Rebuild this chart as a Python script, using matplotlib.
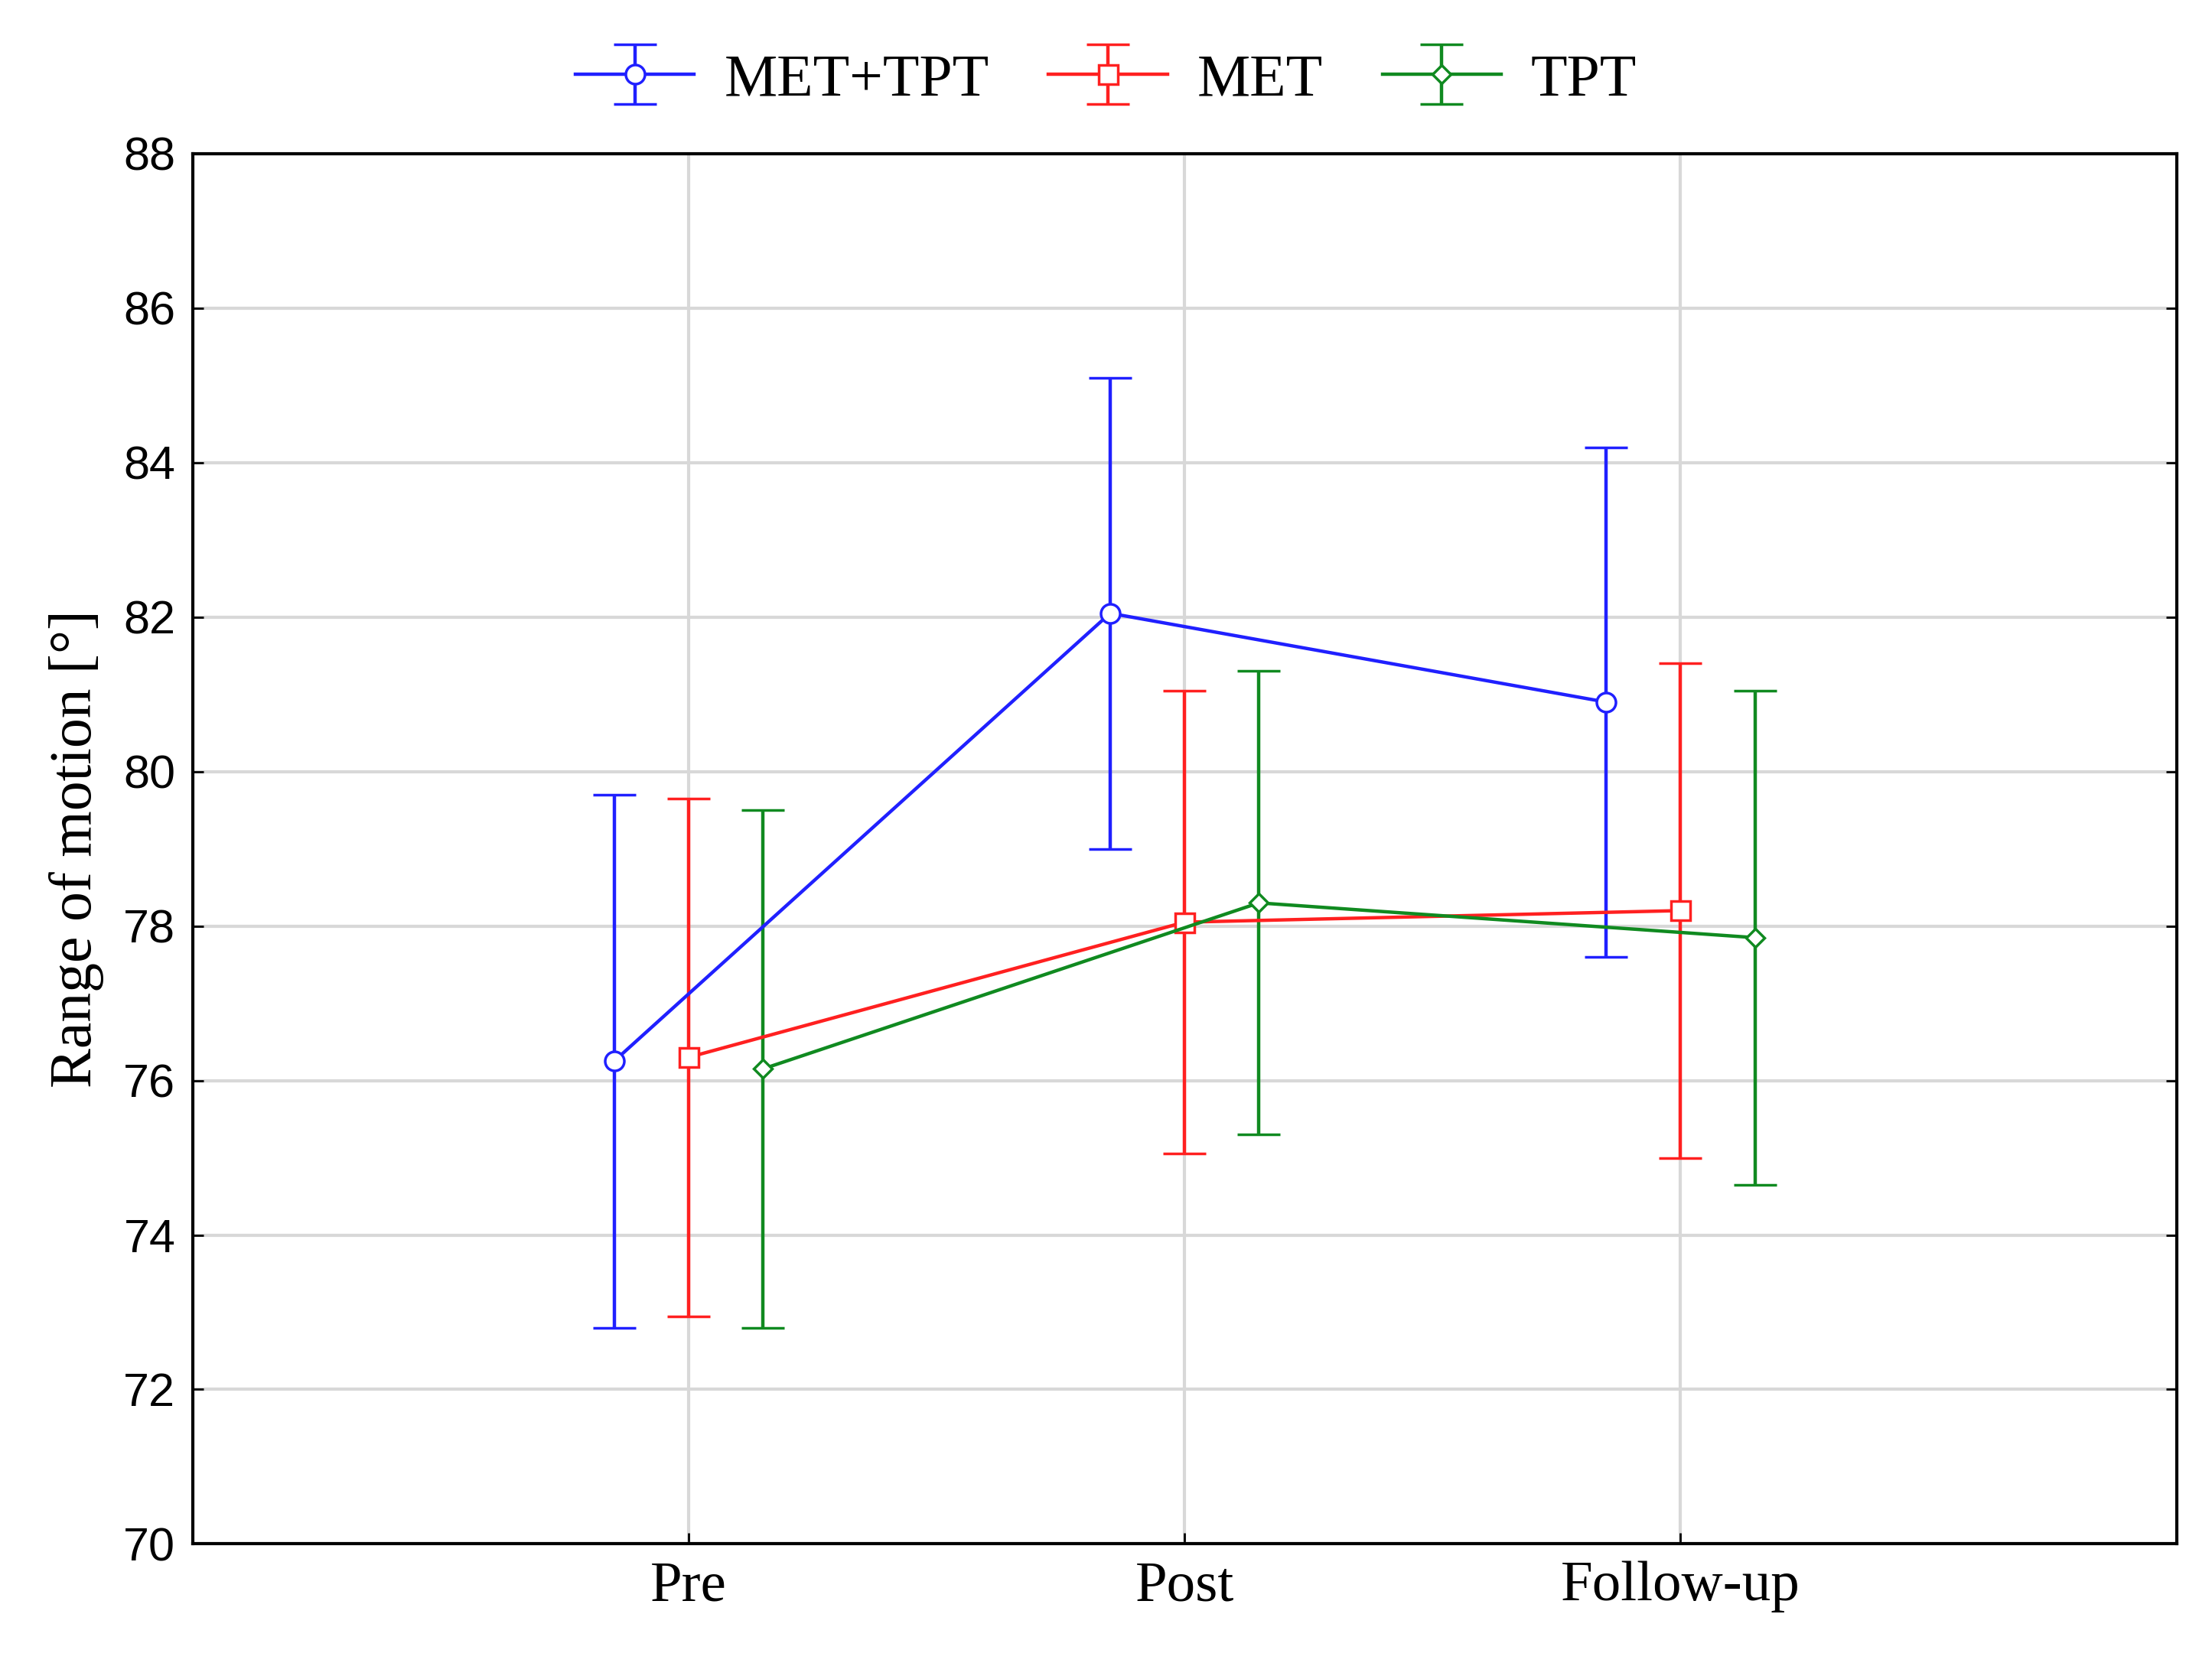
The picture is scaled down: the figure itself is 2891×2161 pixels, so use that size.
import numpy as np
import matplotlib
matplotlib.use("Agg")
import matplotlib.pyplot as plt

phases = ["Pre", "Post", "Follow-up"]
groups = ["MET+TPT", "MET", "TPT"]
colors = ["#2020ff", "#ff2020", "#108a20"]
markers = ["o", "s", "D"]
means = [[76.25, 82.05, 80.9],
         [76.3, 78.05, 78.2],
         [76.15, 78.3, 77.85]]
lower = [[72.8, 79.0, 77.6],
         [72.95, 75.05, 75.0],
         [72.8, 75.3, 74.65]]
upper = [[79.7, 85.1, 84.2],
         [79.65, 81.05, 81.4],
         [79.5, 81.3, 81.05]]

fig = plt.figure(figsize=(28.91, 21.61), dpi=100)
ax = fig.add_axes([0.087, 0.066, 0.897, 0.841])
x = np.arange(len(phases))
offsets = [-0.15, 0.0, 0.15]
for g in range(3):
    m = np.array(means[g])
    err = [m - np.array(lower[g]), np.array(upper[g]) - m]
    ms = 12 if markers[g] == "D" else 18
    ax.errorbar(x + offsets[g], m, yerr=err, color=colors[g], marker=markers[g],
                mfc="white", mec=colors[g], ms=ms, mew=2.5, lw=3.2, elinewidth=3.2,
                capsize=20, capthick=3.2, label=groups[g])

ax.set_xlim(-1, 3)
ax.set_ylim(70, 88)
ax.set_yticks(range(70, 89, 2))
ax.set_xticks(x)
ax.set_xticklabels(phases, family="Liberation Serif", fontsize=54)
for t in ax.get_yticklabels():
    t.set_family("Liberation Sans")
    t.set_fontsize(44)
ax.tick_params(axis="both", direction="in", length=10, width=2, pad=16)
ax.tick_params(axis="y", right=True)
ax.grid(color="#d8d8d8", lw=3)
ax.set_axisbelow(True)
for s in ax.spines.values():
    s.set_linewidth(3)
ax.set_ylabel("Range of motion [°]", family="Liberation Serif", fontsize=56, labelpad=18)
fig.legend(loc="upper center", bbox_to_anchor=(0.5, 1.0), ncol=3, frameon=False,
           prop={"family": "Liberation Serif", "size": 56}, handlelength=2.0,
           columnspacing=1.0, handletextpad=0.5)
fig.savefig("out.png", dpi=100)
